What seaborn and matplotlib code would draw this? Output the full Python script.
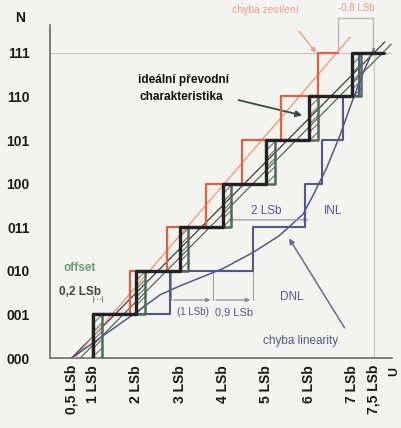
import numpy as np
import pandas as pd
import matplotlib
matplotlib.use("Agg")
import matplotlib.pyplot as plt
from matplotlib.patches import Rectangle
import seaborn as sns

# ---------------- data ----------------
codes = ["000", "001", "010", "011", "100", "101", "110", "111"]
levels = [0, 1, 2, 3, 4, 5, 6, 7]
x_major = [1, 2, 3, 4, 5, 6, 7]
x_major_labels = ["1 LSb", "2 LSb", "3 LSb", "4 LSb", "5 LSb", "6 LSb", "7 LSb"]
x_half = [0.5, 7.5]
x_half_labels = ["0,5 LSb", "7,5 LSb"]

# transition points (input value where the code steps up)
ideal_t = [1.0, 2.0, 3.0, 4.0, 5.0, 6.0, 7.0]
ideal_end = 7.7
offset_t = [1.2, 2.2, 3.2, 4.2, 5.2, 6.2, 7.2]
offset_end = 7.75
gain_t = [1.0, 1.85, 2.7, 3.6, 4.45, 5.35, 6.2]
gain_end = 6.67
dnl_t = [1.0, 2.78, 4.7, 5.9, 6.3, 6.78, 7.15]
dnl_end = 7.7

# straight lines (start, end)
ideal_line_x = [0.5, 7.75]
ideal_line_y = [0.0, 7.25]
offset_line_x = [0.7, 7.9]
offset_line_y = [0.0, 7.2]
gain_line_x = [0.57, 6.95]
gain_line_y = [0.0, 7.36]

# INL curve
inl_x = [0.5, 1.0, 1.5, 2.0, 2.55, 3.0, 3.5, 4.0, 4.7, 5.3, 5.86, 6.1, 6.4, 6.71, 7.0, 7.25, 7.5]
inl_y = [0.0, 0.35, 0.7, 1.05, 1.45, 1.65, 1.85, 2.05, 2.42, 2.8, 3.3, 3.75, 4.35, 5.1, 5.9, 6.55, 7.1]

# ---------------- style ----------------
sns.set_style("white")
plt.rcParams["font.family"] = ["Liberation Sans", "DejaVu Sans"]

BG = "#f3f3f0"
C_IDEAL = "#222222"
C_OFF = "#4f6b55"
C_GAIN = "#e0603c"
C_GAIN_L = "#ec9a86"
C_DNL = "#55558a"
C_GRID = "#c8c8c8"
C_AX = "#6a6a6a"

fig = plt.figure(figsize=(4.02, 4.28), dpi=100, facecolor=BG)
ax = fig.add_axes([50 / 402, 70 / 428, 342 / 402, 333 / 428])
ax.set_facecolor(BG)
ax.set_xlim(0, 342 / 43.2)
ax.set_ylim(0, 333 / 43.6)


def step_df(trans, end):
    xs = [trans[0]] + list(trans) + [end]
    ys = [0] + [i + 1 for i in range(len(trans))] + [len(trans)]
    return pd.DataFrame({"x": xs, "y": ys})


# guide lines
ax.axhline(7, color=C_GRID, lw=0.9, zorder=1)
ax.axvline(7.5, color=C_GRID, lw=0.9, ymax=(7.1) / (333 / 43.6), zorder=1)

# hatched rectangles between ideal and offset transitions
for i, (a, b) in enumerate(zip(ideal_t, offset_t)):
    ax.add_patch(Rectangle((a, i), b - a, 1, fill=False, hatch="////",
                           edgecolor="#7a8a7a", lw=0, zorder=2))

# diagonal lines
sns.lineplot(x=ideal_line_x, y=ideal_line_y, ax=ax, color="#3a3a3a", lw=0.9, zorder=3)
sns.lineplot(x=offset_line_x, y=offset_line_y, ax=ax, color=C_OFF, lw=0.9, zorder=3)
sns.lineplot(x=gain_line_x, y=gain_line_y, ax=ax, color=C_GAIN_L, lw=1.0, zorder=3)

# INL curve
sns.lineplot(x=inl_x, y=inl_y, ax=ax, color=C_DNL, lw=1.1, sort=False, zorder=3)

# step characteristics
g = step_df(gain_t, gain_end)
sns.lineplot(data=g, x="x", y="y", ax=ax, color=C_GAIN, lw=1.6,
             drawstyle="steps-post", sort=False, estimator=None, zorder=4)
d = step_df(dnl_t, dnl_end)
sns.lineplot(data=d, x="x", y="y", ax=ax, color=C_DNL, lw=1.5,
             drawstyle="steps-post", sort=False, estimator=None, zorder=4)
o = step_df(offset_t, offset_end)
sns.lineplot(data=o, x="x", y="y", ax=ax, color=C_OFF, lw=1.8,
             drawstyle="steps-post", sort=False, estimator=None, zorder=5)
s = step_df(ideal_t, ideal_end)
sns.lineplot(data=s, x="x", y="y", ax=ax, color=C_IDEAL, lw=2.4,
             drawstyle="steps-post", sort=False, estimator=None, zorder=6)

# ---------------- axes ----------------
sns.despine(ax=ax)
for sp in ["left", "bottom"]:
    ax.spines[sp].set_color(C_AX)
    ax.spines[sp].set_linewidth(1.2)
ax.set_yticks(levels)
ax.set_yticklabels(codes)
ax.set_xticks(x_major)
ax.set_xticklabels(x_major_labels, rotation=90)
ax.set_xticks(x_half, minor=True)
ax.set_xticklabels(x_half_labels, minor=True, rotation=90)
ax.tick_params(axis="y", direction="inout", length=7, width=0.9, color=C_AX,
               labelsize=10, pad=11, labelcolor="#1a1a1a")
ax.tick_params(axis="x", which="major", direction="inout", length=7, width=0.9,
               color=C_AX, labelsize=10, pad=2, labelcolor="#1a1a1a")
ax.tick_params(axis="x", which="minor", length=0, labelsize=10, pad=5,
               labelcolor="#1a1a1a")
for lab in ax.get_xticklabels() + ax.get_xticklabels(minor=True) + ax.get_yticklabels():
    lab.set_fontweight("bold")
ax.set_xlabel("")
ax.set_ylabel("")

fig.text(20 / 402, 1 - 18 / 428, "N", fontsize=10, fontweight="bold",
         color="#1a1a1a", ha="center", va="center")
fig.text(394 / 402, 1 - 372 / 428, "U", fontsize=9, fontweight="bold",
         color="#1a1a1a", ha="center", va="center", rotation=90)

# ---------------- annotations ----------------
ax.text(3.1, 6.38, "ideální převodní", ha="center", va="center",
        fontsize=8.5, fontweight="bold", color="#111111")
ax.text(3.05, 5.99, "charakteristika", ha="center", va="center",
        fontsize=8.5, fontweight="bold", color="#111111")
ax.annotate("", xy=(5.9, 5.55), xytext=(4.3, 5.93),
            arrowprops=dict(arrowstyle="-|>", color="#3c4a40", lw=1.3,
                            mutation_scale=9))

ax.text(4.98, 7.98, "chyba zesílení", ha="center", va="center",
        fontsize=7.5, color=C_GAIN_L, clip_on=False)
ax.annotate("", xy=(6.2, 6.95), xytext=(5.72, 7.55),
            arrowprops=dict(arrowstyle="-|>", color=C_GAIN_L, lw=1.0,
                            mutation_scale=7), annotation_clip=False)
ax.text(7.1, 8.03, "-0,8 LSb", ha="center", va="center", fontsize=7,
        color=C_GAIN_L, clip_on=False)
ax.plot([6.67, 6.67, 7.47, 7.47], [7.05, 7.8, 7.8, 7.05], color="#b0b0b0",
        lw=0.9, clip_on=False)

ax.text(0.69, 2.06, "offset", ha="center", va="center", fontsize=8.5,
        color="#6f9a72", fontweight="bold")
ax.text(0.69, 1.51, "0,2 LSb", ha="center", va="center", fontsize=8.5,
        color="#444444", fontweight="bold")
ax.plot([1.0, 1.2], [1.35, 1.35], color="#7a9a7a", lw=0.9, ls=":")
ax.plot([1.0, 1.0], [1.28, 1.42], color="#7a9a7a", lw=0.8)
ax.plot([1.2, 1.2], [1.28, 1.42], color="#7a9a7a", lw=0.8)

# DNL dimension
for xv in [2.8, 3.78, 4.7]:
    ax.plot([xv, xv], [1.33, 2.0], color="#9a9aa8", lw=0.8, zorder=2)
ax.annotate("", xy=(3.78, 1.33), xytext=(2.8, 1.33),
            arrowprops=dict(arrowstyle="-|>", color="#8a8a98", lw=0.9,
                            mutation_scale=6))
ax.annotate("", xy=(4.7, 1.33), xytext=(3.78, 1.33),
            arrowprops=dict(arrowstyle="-|>", color="#8a8a98", lw=0.9,
                            mutation_scale=6))
ax.text(3.3, 1.05, "(1 LSb)", ha="center", va="center", fontsize=7,
        color=C_DNL)
ax.text(4.25, 1.05, "0,9 LSb", ha="center", va="center", fontsize=8,
        color=C_DNL)
ax.text(5.6, 1.4, "DNL", ha="center", va="center", fontsize=8.5,
        color=C_DNL)

# INL dimension
ax.annotate("", xy=(4.05, 3.17), xytext=(6.05, 3.17),
            arrowprops=dict(arrowstyle="<|-|>", color="#9a9aa8", lw=0.9,
                            mutation_scale=6))
ax.text(5.0, 3.37, "2 LSb", ha="center", va="center", fontsize=8.5,
        color=C_DNL, zorder=8)
ax.text(6.55, 3.37, "INL", ha="center", va="center", fontsize=8.5,
        color=C_DNL, zorder=8)

ax.text(5.8, 0.39, "chyba linearity", ha="center", va="center",
        fontsize=8.5, color=C_DNL)
ax.annotate("", xy=(5.5, 2.8), xytext=(6.85, 0.64),
            arrowprops=dict(arrowstyle="-|>", color="#6a6a8a", lw=1.1,
                            mutation_scale=8))

fig.savefig("out.png", dpi=100, facecolor=BG)
